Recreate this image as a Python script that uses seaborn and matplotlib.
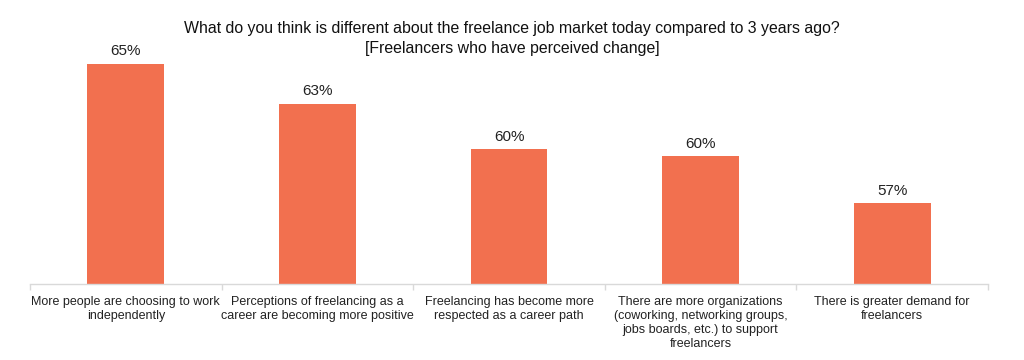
import matplotlib
matplotlib.use("Agg")
import matplotlib.pyplot as plt
import seaborn as sns
import pandas as pd
import numpy as np

categories = [
    "More people are choosing to work\nindependently",
    "Perceptions of freelancing as a\ncareer are becoming more positive",
    "Freelancing has become more\nrespected as a career path",
    "There are more organizations\n(coworking, networking groups,\njobs boards, etc.) to support\nfreelancers",
    "There is greater demand for\nfreelancers",
]
values = [65.0, 62.7, 60.1, 59.7, 57.0]
title_lines = [
    "What do you think is different about the freelance job market today compared to 3 years ago?",
    "[Freelancers who have perceived change]",
]

sns.set_theme(style="white")
plt.rcParams["font.family"] = ["Liberation Sans", "DejaVu Sans"]

df = pd.DataFrame({"cat": categories, "val": values})

fig = plt.figure(figsize=(10.24, 3.6), dpi=100)
ax = fig.add_axes([30 / 1024, (360 - 284) / 360, (988 - 30) / 1024, (284 - 20) / 360])

sns.barplot(data=df, x="cat", y="val", color="#F2704F", width=0.4, ax=ax,
            saturation=1, edgecolor="none")
ax.set_ylim(52.36, 67.53)
ax.set_xlim(-0.5, len(categories) - 0.5)

for i, v in enumerate(values):
    ax.annotate(f"{round(v)}%", (i, v), xytext=(0, 4), textcoords="offset points",
                ha="center", va="bottom", fontsize=11, color="#222222")

for s in ["top", "right", "left"]:
    ax.spines[s].set_visible(False)
ax.spines["bottom"].set_color("#D9D9D9")
ax.spines["bottom"].set_linewidth(1.0)
ax.set_yticks([])
ax.set_xlabel("")
ax.set_ylabel("")
ax.set_xticks(range(len(categories)))
ax.set_xticklabels(categories, fontsize=9, color="#222222", linespacing=1.2)
ax.tick_params(axis="x", length=0, pad=9)
ax.set_xticks(np.arange(-0.5, len(categories), 1.0), minor=True)
ax.tick_params(axis="x", which="minor", length=4, color="#D9D9D9", width=1, direction="out", bottom=True)

fig.text(0.5, 1 - 29 / 360, title_lines[0], ha="center", va="center", fontsize=11.4, color="#111111")
fig.text(0.5, 1 - 48 / 360, title_lines[1], ha="center", va="center", fontsize=11.4, color="#111111")

fig.savefig("out.png", dpi=100, facecolor="white")
